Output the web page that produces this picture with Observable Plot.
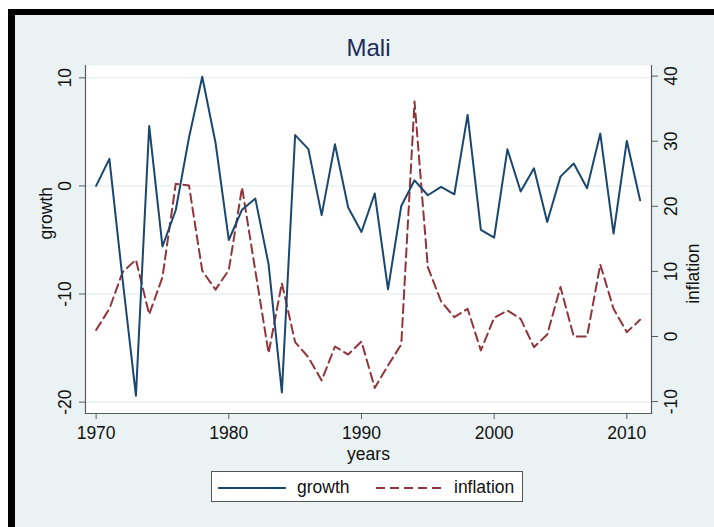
<!DOCTYPE html>
<html>
<head>
<meta charset="utf-8">
<script src="https://cdn.jsdelivr.net/npm/d3@7"></script>
<script src="https://cdn.jsdelivr.net/npm/@observablehq/plot@0.6"></script>
<style>
  html, body { margin: 0; padding: 0; background: #ffffff; width: 714px; height: 527px; overflow: hidden; }
  #bg { position: absolute; left: 8px; top: 9px; width: 699px; height: 512px; background: #EAF2F3;
        border-top: 6px solid #000; border-left: 7px solid #000; }
  #chart { position: absolute; left: 0; top: 0; }
  #legend { position: absolute; left: 211px; top: 471px; width: 312px; height: 31px; background: #fff;
            border: 1px solid #555; box-sizing: border-box; font-family: "Liberation Sans", Arial, sans-serif;
            font-size: 17.5px; color: #111; }
  #legend svg { position: absolute; left: 0; top: 0; }
  #legend span { position: absolute; top: 5px; white-space: nowrap; }
</style>
</head>
<body>
<div id="bg"></div>
<div id="chart"></div>
<div id="legend">
  <svg width="312" height="31">
    <line x1="6" x2="74" y1="16" y2="16" stroke="#1A476F" stroke-width="2"/>
    <line x1="164" x2="232" y1="16" y2="16" stroke="#90353B" stroke-width="2" stroke-dasharray="9,5"/>
  </svg>
  <span style="left:85px">growth</span>
  <span style="left:242px">inflation</span>
</div>
<script>
const years = [1970,1971,1972,1973,1974,1975,1976,1977,1978,1979,
               1980,1981,1982,1983,1984,1985,1986,1987,1988,1989,
               1990,1991,1992,1993,1994,1995,1996,1997,1998,1999,
               2000,2001,2002,2003,2004,2005,2006,2007,2008,2009,
               2010,2011];
const growth = [0, 2.5, -8.7, -19.4, 5.55, -5.6, -2.25, 4.47, 10.1, 4.0,
                -5.0, -2.2, -1.17, -7.25, -19.1, 4.7, 3.4, -2.7, 3.85, -2.0,
                -4.26, -0.7, -9.56, -1.85, 0.52, -0.86, -0.09, -0.77, 6.57, -4.07,
                -4.78, 3.39, -0.52, 1.63, -3.33, 0.86, 2.07, -0.21, 4.84, -4.41,
                4.16, -1.33];
const inflation = [1.0, 4.25, 9.9, 11.8, 3.4, 9.1, 23.45, 23.2, 10.1, 7.2,
                   10.2, 22.9, 10.1, -2.56, 8.2, -0.87, -3.2, -6.76, -1.54, -2.77,
                   -0.77, -7.9, -4.45, -1.23, 36.1, 10.65, 5.4, 2.97, 4.25, -2.15,
                   2.87, 4.0, 2.7, -1.64, 0.3, 7.6, 0, 0, 11.06, 4.25,
                   0.67, 2.56];
const yearTicks = [1970, 1980, 1990, 2000, 2010];
const growthTicks = [-20, -10, 0, 10];
const inflationTicks = [-10, 0, 10, 20, 30, 40];

const gDomain = [-21.05, 11.14];
const iDomain = [-11.83, 41.63];
const toG = i => gDomain[0] + (i - iDomain[0]) * (gDomain[1] - gDomain[0]) / (iDomain[1] - iDomain[0]);
const toI = g => iDomain[0] + (g - gDomain[0]) * (iDomain[1] - iDomain[0]) / (gDomain[1] - gDomain[0]);

const rows = years.map((yr, k) => ({year: yr, growth: growth[k], inflation: inflation[k]}));

const axisColor = "#5a5a5a";
const font = "Liberation Sans, Arial, sans-serif";

const chart = Plot.plot({
  width: 714, height: 527,
  marginLeft: 85, marginRight: 63, marginTop: 65, marginBottom: 114,
  style: {background: "transparent", fontFamily: font, fontSize: "17px", color: "#111"},
  x: {domain: [1969.2, 2011.86], axis: null},
  y: {domain: gDomain, axis: null},
  marks: [
    Plot.frame({fill: "white", stroke: null}),
    Plot.ruleY(growthTicks, {stroke: "#EAF2F3", strokeWidth: 1.6}),
    Plot.line(rows, {x: "year", y: d => toG(d.inflation), stroke: "#90353B", strokeWidth: 2, strokeDasharray: "9,5"}),
    Plot.line(rows, {x: "year", y: "growth", stroke: "#1A476F", strokeWidth: 2}),
    Plot.frame({anchor: "left", stroke: axisColor, strokeWidth: 1.2}),
    Plot.frame({anchor: "bottom", stroke: axisColor, strokeWidth: 1.2}),
    Plot.frame({anchor: "right", stroke: axisColor, strokeWidth: 1.2}),
    Plot.axisX(yearTicks, {tickSize: 6, tickPadding: 7, tickFormat: d => String(d), stroke: axisColor, fill: "#111", fontSize: 17.5, label: null}),
    Plot.axisY(growthTicks, {anchor: "left", tickSize: 6, tickPadding: 9, tickRotate: -90, stroke: axisColor, fill: "#111", fontSize: 17.5, label: null, tickFormat: d => String(d)}),
    Plot.axisY(inflationTicks.map(toG), {anchor: "right", tickSize: 6, tickPadding: 19, tickRotate: -90, stroke: axisColor, fill: "#111", fontSize: 17.5, label: null, tickFormat: g => String(Math.round(toI(g)))}),
    Plot.text(["years"], {frameAnchor: "bottom", dy: 46, fontSize: 17.5, fill: "#111"}),
    Plot.text(["growth"], {frameAnchor: "left", dx: -39, rotate: -90, fontSize: 17.5, fill: "#111"}),
    Plot.text(["inflation"], {frameAnchor: "right", dx: 42, dy: 4, rotate: -90, fontSize: 17.5, fill: "#111"}),
    Plot.text(["Mali"], {frameAnchor: "top", dy: -27, fontSize: 24, fill: "#1c2d5b"})
  ]
});
document.getElementById("chart").appendChild(chart);
</script>
</body>
</html>
